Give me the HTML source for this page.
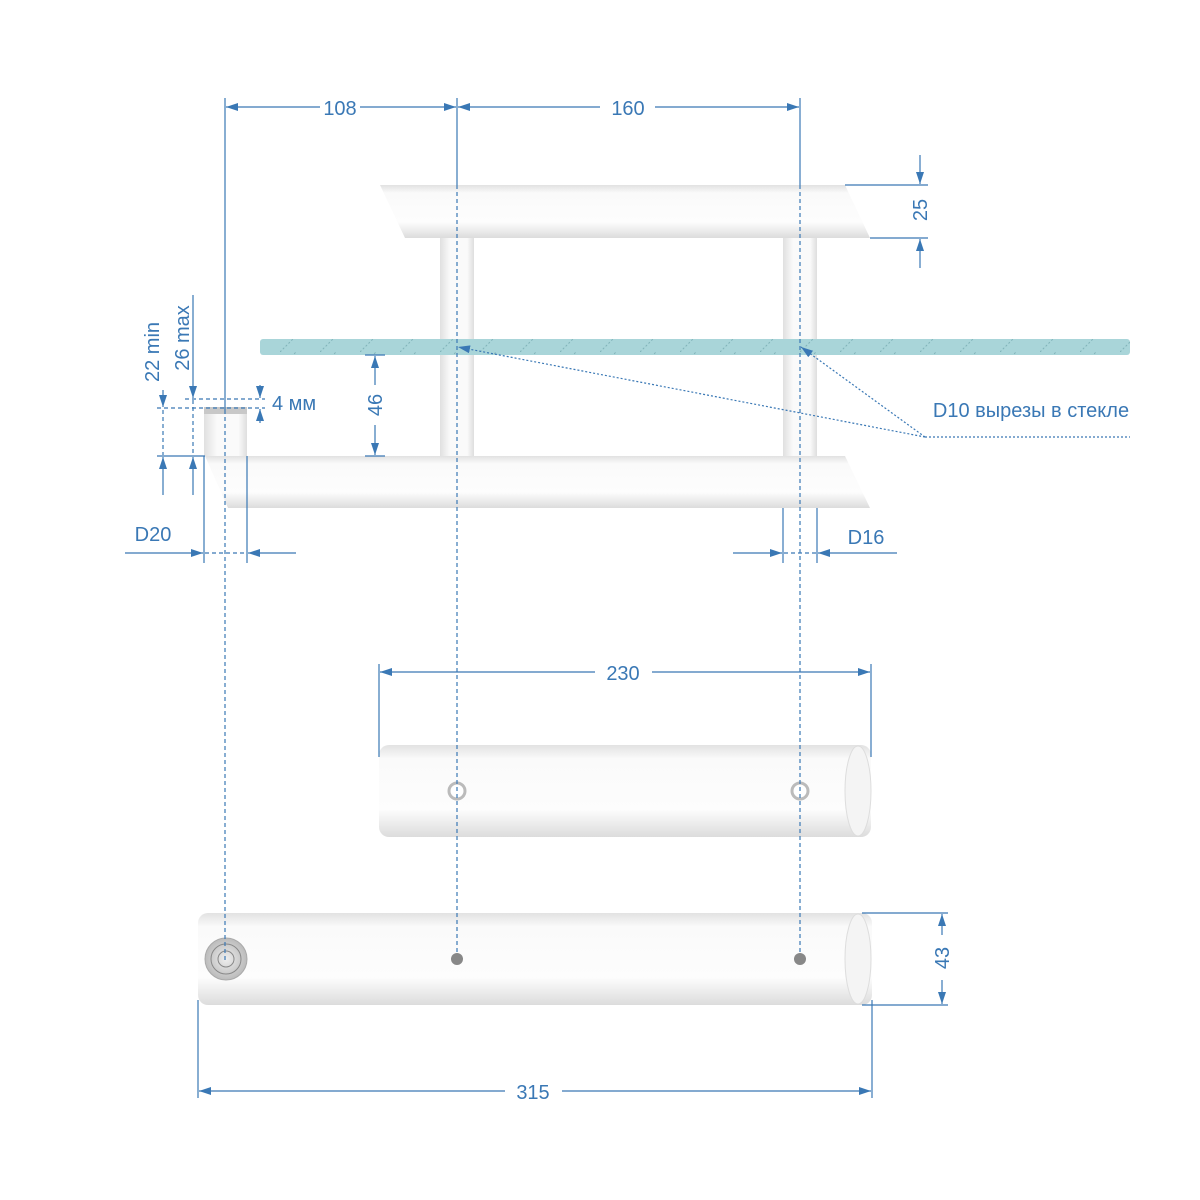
<!DOCTYPE html>
<html><head><meta charset="utf-8"><style>body{margin:0;background:#fff}svg{display:block}</style></head><body>
<svg width="1200" height="1200" viewBox="0 0 1200 1200" xmlns="http://www.w3.org/2000/svg" font-family="Liberation Sans, sans-serif">
<defs>
<linearGradient id="g" x1="0" y1="0" x2="0" y2="1">
<stop offset="0" stop-color="#e2e2e2"/><stop offset="0.15" stop-color="#fafafa"/><stop offset="0.7" stop-color="#fdfdfd"/><stop offset="1" stop-color="#dcdcdc"/></linearGradient>
<linearGradient id="gv" x1="0" y1="0" x2="1" y2="0">
<stop offset="0" stop-color="#e0e0e0"/><stop offset="0.3" stop-color="#fafafa"/><stop offset="0.8" stop-color="#fafafa"/><stop offset="1" stop-color="#dedede"/></linearGradient>
<radialGradient id="sc"><stop offset="0" stop-color="#eee"/><stop offset="1" stop-color="#bbb"/></radialGradient>
<pattern id="h" width="40" height="16" patternUnits="userSpaceOnUse"><line x1="0" y1="16" x2="16" y2="0" stroke="#7fb2b8" stroke-width="1" stroke-dasharray="2,2"/></pattern>
<marker id="a" markerWidth="12" markerHeight="8" refX="12" refY="4" orient="auto" markerUnits="userSpaceOnUse"><path d="M0,0 L12,4 L0,8 z" fill="#3a78b5"/></marker>
</defs>
<!-- top bar -->
<polygon points="380,185 845,185 870,238 405,238" fill="url(#g)"/>
<rect x="440" y="238" width="34" height="218" fill="url(#gv)"/>
<rect x="783" y="238" width="34" height="218" fill="url(#gv)"/>
<!-- glass -->
<rect x="260" y="339" width="870" height="16" rx="3" fill="#a9d5d9"/>
<rect x="260" y="339" width="870" height="16" fill="url(#h)"/>
<!-- bottom bar -->
<polygon points="205,456 845,456 870,508 228,508" fill="url(#g)"/>
<rect x="204" y="407" width="43" height="49" fill="url(#gv)"/>
<rect x="204" y="407" width="43" height="7" fill="#c8c8c8"/>
<!-- mid cylinder -->
<rect x="379" y="745" width="492" height="92" rx="10" fill="url(#g)"/>
<ellipse cx="858" cy="791" rx="13" ry="45" fill="#f4f4f4" stroke="#ddd"/>
<circle cx="457" cy="791" r="8" fill="#fff" stroke="#bbb" stroke-width="3"/>
<circle cx="800" cy="791" r="8" fill="#fff" stroke="#bbb" stroke-width="3"/>
<!-- bottom cylinder -->
<rect x="198" y="913" width="674" height="92" rx="10" fill="url(#g)"/>
<ellipse cx="858" cy="959" rx="13" ry="45" fill="#f4f4f4" stroke="#ddd"/>
<circle cx="226" cy="959" r="21" fill="url(#sc)" stroke="#aaa"/>
<circle cx="226" cy="959" r="15" fill="none" stroke="#888"/>
<circle cx="226" cy="959" r="8" fill="none" stroke="#888"/>
<g stroke="#3a78b5" fill="none" stroke-width="1.2">
<line x1="225" y1="410" x2="225" y2="960" stroke-dasharray="4,3"/>
<line x1="457" y1="185" x2="457" y2="958" stroke-dasharray="4,3"/>
<line x1="800" y1="185" x2="800" y2="958" stroke-dasharray="4,3"/>
</g>
<circle cx="457" cy="959" r="6" fill="#888"/>
<circle cx="800" cy="959" r="6" fill="#888"/>
<g stroke="#3a78b5" fill="none" stroke-width="1.2">
<line x1="225" y1="98" x2="225" y2="410"/>
<line x1="457" y1="98" x2="457" y2="185"/>
<line x1="800" y1="98" x2="800" y2="185"/>
<line x1="320" y1="107" x2="226" y2="107" marker-end="url(#a)"/>
<line x1="360" y1="107" x2="456" y2="107" marker-end="url(#a)"/>
<line x1="600" y1="107" x2="458" y2="107" marker-end="url(#a)"/>
<line x1="655" y1="107" x2="799" y2="107" marker-end="url(#a)"/>
<line x1="845" y1="185" x2="928" y2="185"/><line x1="870" y1="238" x2="928" y2="238"/>
<line x1="920" y1="155" x2="920" y2="184" marker-end="url(#a)"/>
<line x1="920" y1="268" x2="920" y2="239" marker-end="url(#a)"/>
<line x1="365" y1="355" x2="385" y2="355"/><line x1="365" y1="456" x2="385" y2="456"/>
<line x1="375" y1="385" x2="375" y2="356" marker-end="url(#a)"/>
<line x1="375" y1="425" x2="375" y2="455" marker-end="url(#a)"/>
<line x1="185" y1="399" x2="265" y2="399" stroke-dasharray="4,3"/>
<line x1="157" y1="408" x2="265" y2="408" stroke-dasharray="4,3"/>
<line x1="260" y1="385" x2="260" y2="398" marker-end="url(#a)"/>
<line x1="260" y1="423" x2="260" y2="409" marker-end="url(#a)"/>
<line x1="157" y1="456" x2="205" y2="456"/>
<line x1="163" y1="390" x2="163" y2="407" marker-end="url(#a)"/>
<line x1="163" y1="495" x2="163" y2="457" marker-end="url(#a)"/>
<line x1="163" y1="410" x2="163" y2="455" stroke-dasharray="4,3"/>
<line x1="193" y1="295" x2="193" y2="398" marker-end="url(#a)"/>
<line x1="193" y1="495" x2="193" y2="457" marker-end="url(#a)"/>
<line x1="193" y1="400" x2="193" y2="455" stroke-dasharray="4,3"/>
<line x1="204" y1="456" x2="204" y2="563"/><line x1="247" y1="456" x2="247" y2="563"/>
<line x1="125" y1="553" x2="203" y2="553" marker-end="url(#a)"/>
<line x1="296" y1="553" x2="248" y2="553" marker-end="url(#a)"/>
<line x1="205" y1="553" x2="246" y2="553" stroke-dasharray="4,3"/>
<line x1="783" y1="508" x2="783" y2="563"/><line x1="817" y1="508" x2="817" y2="563"/>
<line x1="733" y1="553" x2="782" y2="553" marker-end="url(#a)"/>
<line x1="897" y1="553" x2="818" y2="553" marker-end="url(#a)"/>
<line x1="784" y1="553" x2="816" y2="553" stroke-dasharray="4,3"/>
<g stroke-dasharray="2,2">
<line x1="925" y1="437" x2="458" y2="347" marker-end="url(#a)"/>
<line x1="925" y1="437" x2="801" y2="347" marker-end="url(#a)"/>
<line x1="925" y1="437" x2="1130" y2="437"/>
</g>
<line x1="379" y1="664" x2="379" y2="757"/><line x1="871" y1="664" x2="871" y2="757"/>
<line x1="595" y1="672" x2="380" y2="672" marker-end="url(#a)"/>
<line x1="652" y1="672" x2="870" y2="672" marker-end="url(#a)"/>
<line x1="862" y1="913" x2="948" y2="913"/><line x1="862" y1="1005" x2="948" y2="1005"/>
<line x1="942" y1="935" x2="942" y2="914" marker-end="url(#a)"/>
<line x1="942" y1="980" x2="942" y2="1004" marker-end="url(#a)"/>
<line x1="198" y1="1000" x2="198" y2="1098"/><line x1="872" y1="1000" x2="872" y2="1098"/>
<line x1="505" y1="1091" x2="199" y2="1091" marker-end="url(#a)"/>
<line x1="562" y1="1091" x2="871" y2="1091" marker-end="url(#a)"/>
</g>
<g fill="#3a78b5" font-size="20">
<text x="340" y="115" text-anchor="middle">108</text>
<text x="628" y="115" text-anchor="middle">160</text>
<text x="623" y="680" text-anchor="middle">230</text>
<text x="533" y="1099" text-anchor="middle">315</text>
<text x="153" y="541" text-anchor="middle">D20</text>
<text x="866" y="544" text-anchor="middle">D16</text>
<text x="272" y="410">4 мм</text>
<text x="1031" y="417" text-anchor="middle">D10 вырезы в стекле</text>
<text transform="translate(927,210) rotate(-90)" text-anchor="middle">25</text>
<text transform="translate(382,405) rotate(-90)" text-anchor="middle">46</text>
<text transform="translate(949,958) rotate(-90)" text-anchor="middle">43</text>
<text transform="translate(159,352) rotate(-90)" text-anchor="middle">22 min</text>
<text transform="translate(189,338) rotate(-90)" text-anchor="middle">26 max</text>
</g>
</svg>
</body></html>
